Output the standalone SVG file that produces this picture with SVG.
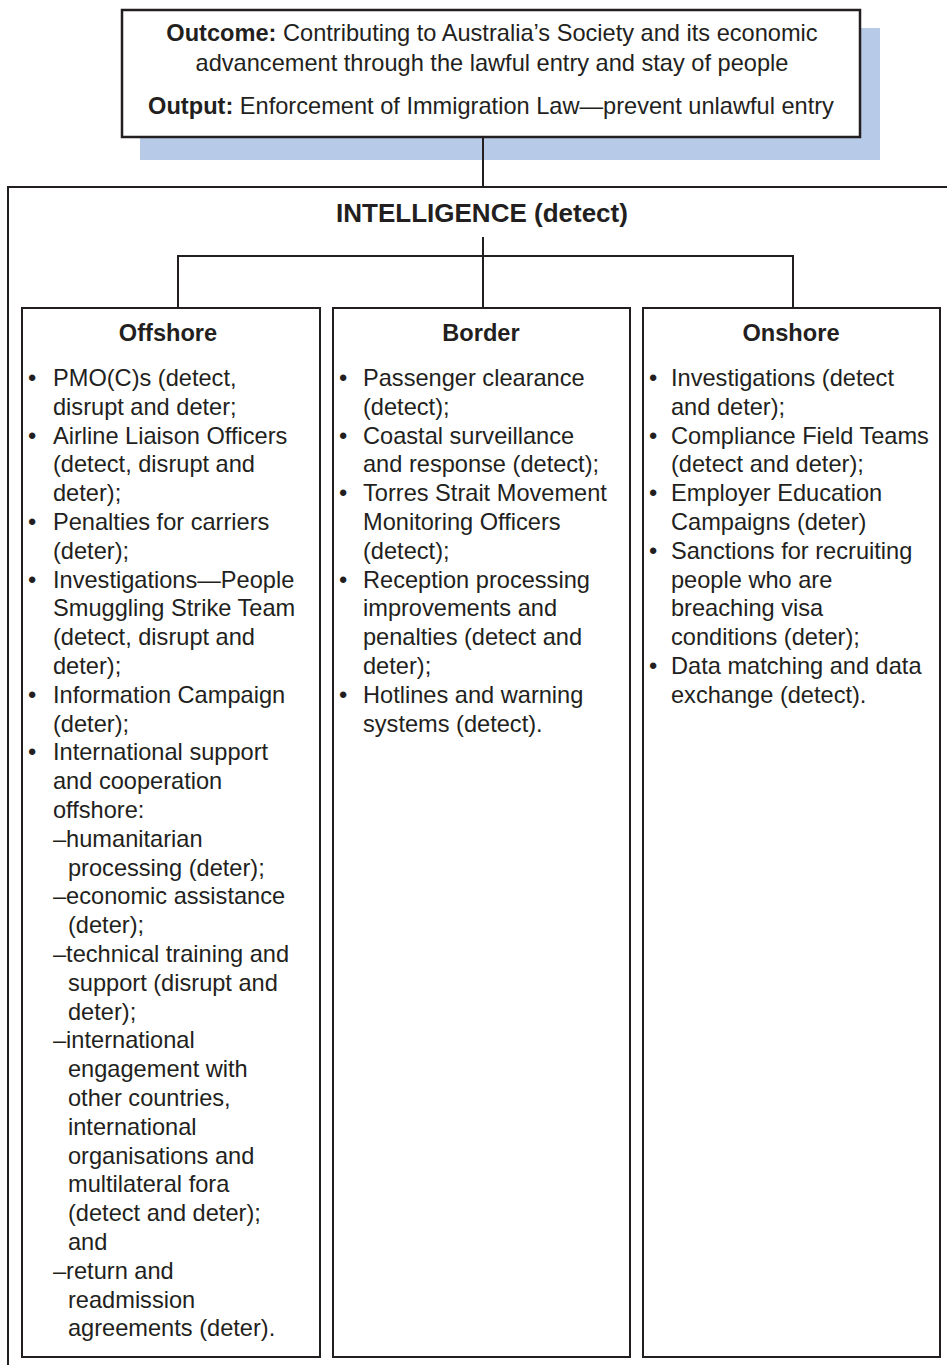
<svg xmlns="http://www.w3.org/2000/svg" width="947" height="1365" viewBox="0 0 947 1365">
<style>
.t{font-family:"Liberation Sans",Arial,sans-serif;font-size:23.6px;fill:#231f20}
.b{font-weight:bold}
.h{font-family:"Liberation Sans",Arial,sans-serif;font-size:23.6px;font-weight:bold;fill:#231f20;text-anchor:middle}
.box{fill:#fff;stroke:#231f20;stroke-width:2}
.ln{fill:none;stroke:#231f20;stroke-width:2}
</style>
<rect x="0" y="0" width="947" height="1365" fill="#fff"/>
<g id="outcome">
<rect x="140" y="28" width="740" height="132" fill="#b7cbe8"/>
<rect x="122" y="10" width="738" height="127" fill="#fff" stroke="#231f20" stroke-width="2.5"/>
<text class="t" x="492" y="41" text-anchor="middle"><tspan class="b">Outcome:</tspan> Contributing to Australia’s Society and its economic</text>
<text class="t" x="492" y="71" text-anchor="middle">advancement through the lawful entry and stay of people</text>
<text class="t" x="491" y="114" text-anchor="middle"><tspan class="b">Output:</tspan> Enforcement of Immigration Law—prevent unlawful entry</text>
</g>
<g id="intelligence">
<path class="ln" d="M8,1365 V187 H947"/>
<text class="h" x="482" y="222" style="font-size:26px">INTELLIGENCE (detect)</text>
</g>
<g id="connectors">
<path class="ln" d="M483,137 V187"/>
<path class="ln" d="M483,237 V308 M178,308 V256 H793 V308"/>
</g>
<g id="offshore">
<rect class="box" x="22" y="308" width="298" height="1049"/>
<text class="h" x="168" y="341">Offshore</text>
<text class="t">
<tspan x="28" y="386">•</tspan><tspan x="53" y="386">PMO(C)s (detect,</tspan>
<tspan x="53" y="414.8">disrupt and deter;</tspan>
<tspan x="28" y="443.6">•</tspan><tspan x="53" y="443.6">Airline Liaison Officers</tspan>
<tspan x="53" y="472.4">(detect, disrupt and</tspan>
<tspan x="53" y="501.2">deter);</tspan>
<tspan x="28" y="530">•</tspan><tspan x="53" y="530">Penalties for carriers</tspan>
<tspan x="53" y="558.8">(deter);</tspan>
<tspan x="28" y="587.6">•</tspan><tspan x="53" y="587.6">Investigations—People</tspan>
<tspan x="53" y="616.4">Smuggling Strike Team</tspan>
<tspan x="53" y="645.2">(detect, disrupt and</tspan>
<tspan x="53" y="674">deter);</tspan>
<tspan x="28" y="702.8">•</tspan><tspan x="53" y="702.8">Information Campaign</tspan>
<tspan x="53" y="731.6">(deter);</tspan>
<tspan x="28" y="760.4">•</tspan><tspan x="53" y="760.4">International support</tspan>
<tspan x="53" y="789.2">and cooperation</tspan>
<tspan x="53" y="818">offshore:</tspan>
<tspan x="53" y="846.8">–humanitarian</tspan>
<tspan x="68" y="875.6">processing (deter);</tspan>
<tspan x="53" y="904.4">–economic assistance</tspan>
<tspan x="68" y="933.2">(deter);</tspan>
<tspan x="53" y="962">–technical training and</tspan>
<tspan x="68" y="990.8">support (disrupt and</tspan>
<tspan x="68" y="1019.6">deter);</tspan>
<tspan x="53" y="1048.4">–international</tspan>
<tspan x="68" y="1077.2">engagement with</tspan>
<tspan x="68" y="1106">other countries,</tspan>
<tspan x="68" y="1134.8">international</tspan>
<tspan x="68" y="1163.6">organisations and</tspan>
<tspan x="68" y="1192.4">multilateral fora</tspan>
<tspan x="68" y="1221.2">(detect and deter);</tspan>
<tspan x="68" y="1250">and</tspan>
<tspan x="53" y="1278.8">–return and</tspan>
<tspan x="68" y="1307.6">readmission</tspan>
<tspan x="68" y="1336.4">agreements (deter).</tspan>
</text>
</g>
<g id="border">
<rect class="box" x="333" y="308" width="297" height="1049"/>
<text class="h" x="481" y="341">Border</text>
<text class="t">
<tspan x="339" y="386">•</tspan><tspan x="363" y="386">Passenger clearance</tspan>
<tspan x="363" y="414.8">(detect);</tspan>
<tspan x="339" y="443.6">•</tspan><tspan x="363" y="443.6">Coastal surveillance</tspan>
<tspan x="363" y="472.4">and response (detect);</tspan>
<tspan x="339" y="501.2">•</tspan><tspan x="363" y="501.2">Torres Strait Movement</tspan>
<tspan x="363" y="530">Monitoring Officers</tspan>
<tspan x="363" y="558.8">(detect);</tspan>
<tspan x="339" y="587.6">•</tspan><tspan x="363" y="587.6">Reception processing</tspan>
<tspan x="363" y="616.4">improvements and</tspan>
<tspan x="363" y="645.2">penalties (detect and</tspan>
<tspan x="363" y="674">deter);</tspan>
<tspan x="339" y="702.8">•</tspan><tspan x="363" y="702.8">Hotlines and warning</tspan>
<tspan x="363" y="731.6">systems (detect).</tspan>
</text>
</g>
<g id="onshore">
<rect class="box" x="643" y="308" width="297" height="1049"/>
<text class="h" x="791" y="341">Onshore</text>
<text class="t">
<tspan x="649" y="386">•</tspan><tspan x="671" y="386">Investigations (detect</tspan>
<tspan x="671" y="414.8">and deter);</tspan>
<tspan x="649" y="443.6">•</tspan><tspan x="671" y="443.6">Compliance Field Teams</tspan>
<tspan x="671" y="472.4">(detect and deter);</tspan>
<tspan x="649" y="501.2">•</tspan><tspan x="671" y="501.2">Employer Education</tspan>
<tspan x="671" y="530">Campaigns (deter)</tspan>
<tspan x="649" y="558.8">•</tspan><tspan x="671" y="558.8">Sanctions for recruiting</tspan>
<tspan x="671" y="587.6">people who are</tspan>
<tspan x="671" y="616.4">breaching visa</tspan>
<tspan x="671" y="645.2">conditions (deter);</tspan>
<tspan x="649" y="674">•</tspan><tspan x="671" y="674">Data matching and data</tspan>
<tspan x="671" y="702.8">exchange (detect).</tspan>
</text>
</g>
</svg>
